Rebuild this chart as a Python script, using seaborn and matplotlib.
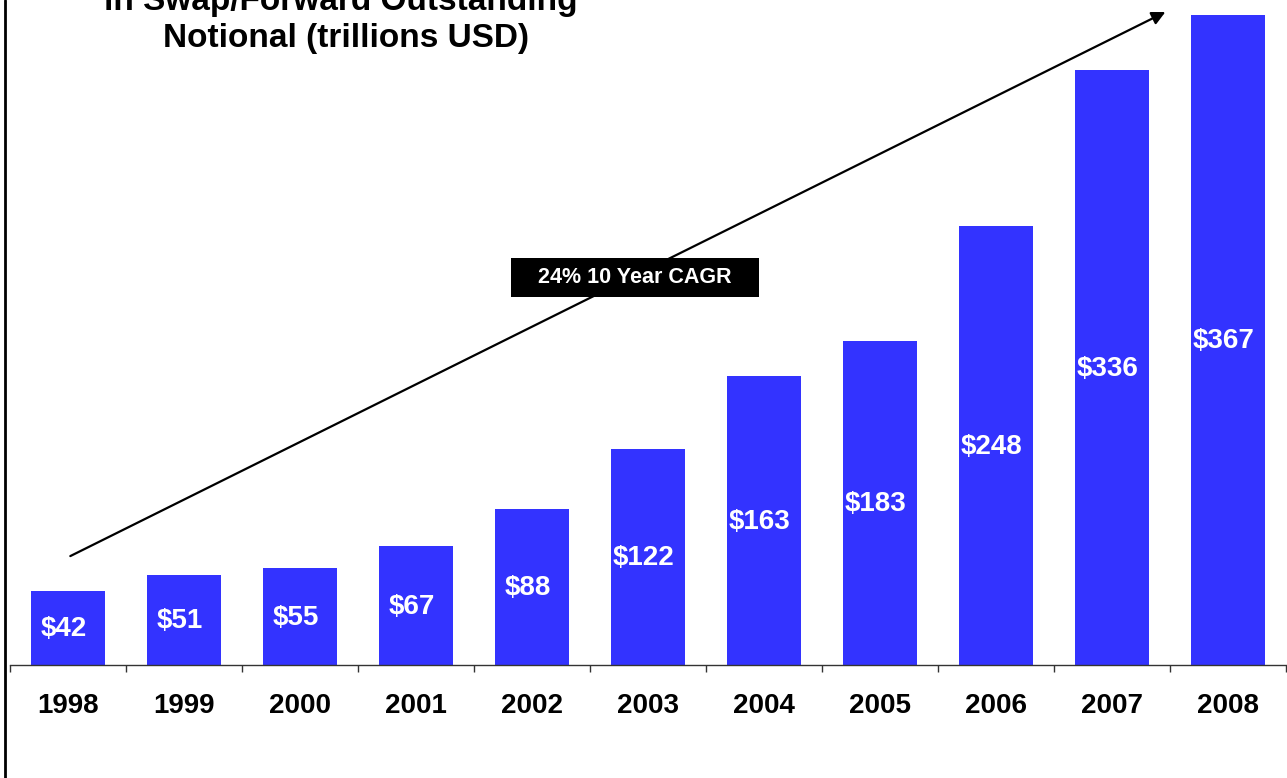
import matplotlib
matplotlib.use("Agg")
import matplotlib.pyplot as plt
from matplotlib.lines import Line2D
from matplotlib.patches import Rectangle
import seaborn as sns
import pandas as pd

years = ["1998", "1999", "2000", "2001", "2002", "2003",
         "2004", "2005", "2006", "2007", "2008"]
notional = [42, 51, 55, 67, 88, 122, 163, 183, 248, 336, 367]
value_labels = ["$42", "$51", "$55", "$67", "$88", "$122",
                "$163", "$183", "$248", "$336", "$367"]
title_lines = ["in Swap/Forward Outstanding", "Notional (trillions USD)"]
cagr_text = "24% 10 Year CAGR"

sns.set_theme(style="white")
plt.rcParams["font.family"] = ["Liberation Sans", "DejaVu Sans"]
plt.rcParams["font.weight"] = "bold"

W, H = 1287, 778
fig = plt.figure(figsize=(W / 100, H / 100), dpi=100)
ax = fig.add_axes([10 / W, (H - 665) / H, 1276 / W, 665 / H])

df = pd.DataFrame({"year": years, "value": notional})
sns.barplot(data=df, x="year", y="value", color="#3333FF", saturation=1,
            width=0.63, linewidth=0, ax=ax)

ax.set_xlim(-0.5, len(years) - 0.5)
ax.set_ylim(0, 375.5)
ax.set_xlabel("")
ax.set_ylabel("")
ax.set_yticks([])

# category-boundary tick marks below the baseline
for s in ["left", "right", "top"]:
    ax.spines[s].set_visible(False)
ax.spines["bottom"].set_color("#333333")
ax.spines["bottom"].set_linewidth(1.0)
ax.set_xticks(range(len(years)))
ax.set_xticklabels(years, fontsize=20, fontweight="bold", color="black")
ax.tick_params(axis="x", which="major", length=0, pad=20)
ax.set_xticks([i - 0.5 for i in range(len(years) + 1)], minor=True)
ax.tick_params(axis="x", which="minor", direction="out", length=5,
               width=1, color="#333333", bottom=True)

# value labels inside the bars
for i, (v, lbl) in enumerate(zip(notional, value_labels)):
    ax.annotate(lbl, (i, v / 2), xytext=(-3, -1), textcoords="offset points",
                ha="center", va="center", color="white", fontsize=20,
                fontweight="bold")

# growth arrow
ax.annotate("", xy=(9.46, 368.7), xytext=(0.02, 61.5),
            arrowprops=dict(arrowstyle="-|>", color="black", lw=1.6,
                            mutation_scale=20, shrinkA=0, shrinkB=0))

# CAGR call-out box
fig.add_artist(Rectangle((511 / W, (H - 297) / H), 248 / W, 39 / H,
                         transform=fig.transFigure, facecolor="black",
                         edgecolor="none", zorder=5))
fig.text(635 / W, (H - 277.5) / H, cagr_text, ha="center", va="center",
         color="white", fontsize=15.5, fontweight="bold", zorder=6)

# title
fig.text(341 / W, (H - 10) / H, title_lines[0], ha="center", va="baseline",
         fontsize=24, fontweight="bold", color="black")
fig.text(346 / W, (H - 47) / H, title_lines[1], ha="center", va="baseline",
         fontsize=24, fontweight="bold", color="black")

# left frame line
fig.add_artist(Line2D([5 / W, 5 / W], [0, 1], transform=fig.transFigure,
                      color="black", lw=2))

fig.savefig("out.png", dpi=100)
